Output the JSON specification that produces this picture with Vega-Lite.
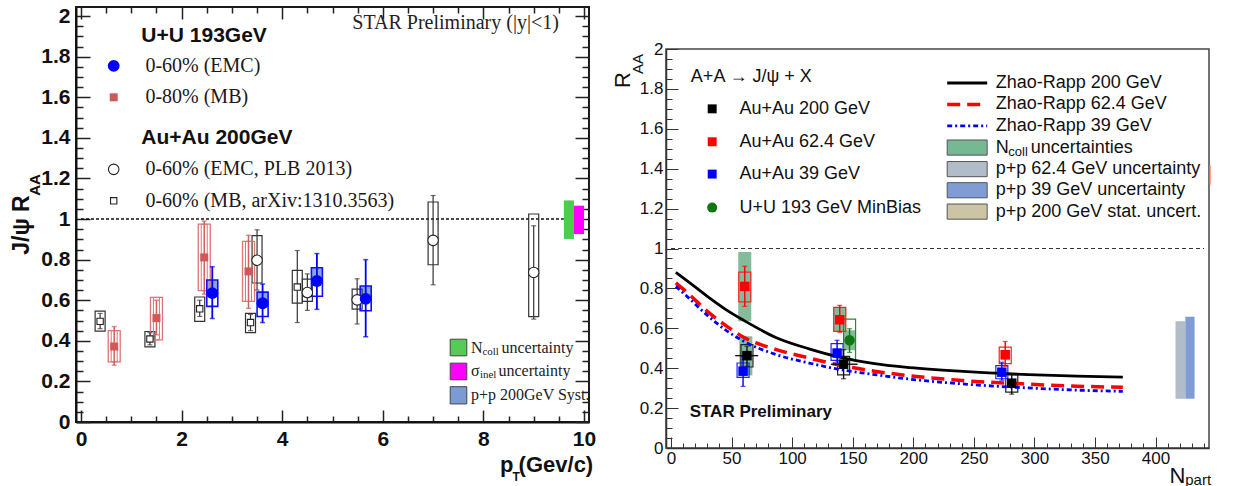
{
"$schema": "https://vega.github.io/schema/vega-lite/v6.json",
"background": "white",
"padding": {"left": 10, "top": 4, "right": 5, "bottom": 0},
"config": {"font": "Liberation Sans"},
"spacing": 77,
"bounds": "flush",
"datasets": {
"lp": [
{"s":"uuemc","pt":2.61,"r":0.635,"slo":0.51,"shi":0.765,"blo":0.57,"bhi":0.70},
{"s":"uuemc","pt":3.61,"r":0.585,"slo":0.49,"shi":0.68,"blo":0.52,"bhi":0.64},
{"s":"uuemc","pt":4.69,"r":0.695,"slo":0.555,"shi":0.83,"blo":0.62,"bhi":0.76},
{"s":"uuemc","pt":5.66,"r":0.607,"slo":0.42,"shi":0.80,"blo":0.548,"bhi":0.67},
{"s":"uumb","pt":0.66,"r":0.372,"slo":0.28,"shi":0.47,"blo":0.296,"bhi":0.45},
{"s":"uumb","pt":1.5,"r":0.512,"slo":0.43,"shi":0.60,"blo":0.405,"bhi":0.614},
{"s":"uumb","pt":2.45,"r":0.811,"slo":0.63,"shi":0.99,"blo":0.647,"bhi":0.975},
{"s":"uumb","pt":3.33,"r":0.742,"slo":0.56,"shi":0.92,"blo":0.594,"bhi":0.89},
{"s":"auemc","pt":3.5,"r":0.797,"slo":0.65,"shi":0.947,"blo":0.685,"bhi":0.918},
{"s":"auemc","pt":4.5,"r":0.638,"slo":0.55,"shi":0.73,"blo":0.594,"bhi":0.704},
{"s":"auemc","pt":5.49,"r":0.602,"slo":0.483,"shi":0.706,"blo":0.556,"bhi":0.655},
{"s":"auemc","pt":7.0,"r":0.895,"slo":0.676,"shi":1.116,"blo":0.775,"bhi":1.084},
{"s":"auemc","pt":9.0,"r":0.737,"slo":0.507,"shi":0.967,"blo":0.519,"bhi":1.025},
{"s":"aumb","pt":0.38,"r":0.496,"slo":0.46,"shi":0.535,"blo":0.448,"bhi":0.546},
{"s":"aumb","pt":1.37,"r":0.409,"slo":0.38,"shi":0.44,"blo":0.37,"bhi":0.446},
{"s":"aumb","pt":2.36,"r":0.558,"slo":0.52,"shi":0.60,"blo":0.496,"bhi":0.616},
{"s":"aumb","pt":3.37,"r":0.49,"slo":0.45,"shi":0.53,"blo":0.44,"bhi":0.535},
{"s":"aumb","pt":4.3,"r":0.665,"slo":0.49,"shi":0.845,"blo":0.586,"bhi":0.747}
],
"rp": [
{"s":"au200","n":62.7,"r":0.463,"slo":0.41,"shi":0.51,"blo":0.406,"bhi":0.518,"nlo":53,"nhi":72},
{"s":"au200","n":142.5,"r":0.42,"slo":0.347,"shi":0.493,"blo":0.367,"bhi":0.459,"nlo":132,"nhi":154},
{"s":"au200","n":281.3,"r":0.325,"slo":0.27,"shi":0.37,"blo":0.28,"bhi":0.367},
{"s":"au62","n":60.9,"r":0.81,"slo":0.71,"shi":0.911,"blo":0.732,"bhi":0.882},
{"s":"au62","n":139.3,"r":0.643,"slo":0.58,"shi":0.715,"blo":0.585,"bhi":0.705},
{"s":"au62","n":275.9,"r":0.468,"slo":0.41,"shi":0.534,"blo":0.423,"bhi":0.506},
{"s":"au39","n":59.5,"r":0.385,"slo":0.309,"shi":0.459,"blo":0.354,"bhi":0.426},
{"s":"au39","n":137.1,"r":0.476,"slo":0.43,"shi":0.54,"blo":0.439,"bhi":0.523},
{"s":"au39","n":273.1,"r":0.38,"slo":0.34,"shi":0.43,"blo":0.347,"bhi":0.413},
{"s":"uu193","n":147.4,"r":0.54,"slo":0.479,"shi":0.598,"blo":0.438,"bhi":0.646}
],
"rn": [
{"n":60.9,"lo":0.635,"hi":0.983},
{"n":61.8,"lo":0.364,"hi":0.56},
{"n":139.3,"lo":0.585,"hi":0.705},
{"n":147.4,"lo":0.49,"hi":0.59}
],
"zr": [
{"m":"200","n":4,"r":0.88},{"m":"200","n":15,"r":0.83},{"m":"200","n":30,"r":0.76},{"m":"200","n":45,"r":0.695},{"m":"200","n":60,"r":0.64},{"m":"200","n":87,"r":0.553},{"m":"200","n":114,"r":0.497},{"m":"200","n":140,"r":0.454},{"m":"200","n":168,"r":0.423},{"m":"200","n":193,"r":0.405},{"m":"200","n":241,"r":0.384},{"m":"200","n":295,"r":0.368},{"m":"200","n":335,"r":0.36},{"m":"200","n":373,"r":0.355},
{"m":"62","n":4,"r":0.828},{"m":"62","n":15,"r":0.77},{"m":"62","n":30,"r":0.685},{"m":"62","n":45,"r":0.615},{"m":"62","n":60,"r":0.555},{"m":"62","n":87,"r":0.493},{"m":"62","n":114,"r":0.451},{"m":"62","n":140,"r":0.414},{"m":"62","n":168,"r":0.385},{"m":"62","n":193,"r":0.365},{"m":"62","n":241,"r":0.338},{"m":"62","n":295,"r":0.32},{"m":"62","n":335,"r":0.31},{"m":"62","n":373,"r":0.304},
{"m":"39","n":4,"r":0.81},{"m":"39","n":15,"r":0.75},{"m":"39","n":30,"r":0.665},{"m":"39","n":45,"r":0.592},{"m":"39","n":60,"r":0.535},{"m":"39","n":87,"r":0.468},{"m":"39","n":114,"r":0.426},{"m":"39","n":140,"r":0.393},{"m":"39","n":168,"r":0.368},{"m":"39","n":193,"r":0.348},{"m":"39","n":241,"r":0.321},{"m":"39","n":295,"r":0.301},{"m":"39","n":335,"r":0.29},{"m":"39","n":373,"r":0.284}
]
},
"hconcat": [
{
"width": 513, "height": 415,
"view": {"stroke": "#1a1a1a", "strokeWidth": 2},
"resolve": {"axis": {"x": "independent", "y": "independent"}},
"layer": [
{"data": {"values": [{"a": 0, "b": 9.6, "r": 1}]},
 "mark": {"type": "rule", "strokeDash": [3, 2], "color": "#111", "strokeWidth": 1.6},
 "encoding": {
  "x": {"field": "a", "type": "quantitative", "scale": {"domain": [0, 10], "nice": false, "zero": false},
   "axis": {"orient": "bottom", "title": null, "grid": false, "values": [0,0.5,1,1.5,2,2.5,3,3.5,4,4.5,5,5.5,6,6.5,7,7.5,8,8.5,9,9.5,10],
    "labelExpr": "datum.value % 2 == 0 ? format(datum.value, 'd') : ''",
    "tickSize": {"condition": {"test": "datum.value % 2 == 0", "value": -12}, "value": -6},
    "labelPadding": 18, "labelFont": "Liberation Sans", "labelFontWeight": "bold", "labelFontSize": 21, "labelColor": "#111",
    "tickColor": "#222", "tickWidth": 1.5, "domainColor": "#111", "domainWidth": 2, "labelOverlap": false, "labelFlush": false, "labelBound": false}},
  "x2": {"field": "b"},
  "y": {"field": "r", "type": "quantitative", "scale": {"domain": [0, 2.045], "nice": false, "zero": false},
   "axis": {"orient": "left", "title": null, "grid": false, "values": [0,0.05,0.1,0.15,0.2,0.25,0.3,0.35,0.4,0.45,0.5,0.55,0.6,0.65,0.7,0.75,0.8,0.85,0.9,0.95,1,1.05,1.1,1.15,1.2,1.25,1.3,1.35,1.4,1.45,1.5,1.55,1.6,1.65,1.7,1.75,1.8,1.85,1.9,1.95,2],
    "labelExpr": "abs(datum.value*5 - round(datum.value*5)) < 0.001 ? format(datum.value, '.1~f') : ''",
    "tickSize": {"condition": {"test": "abs(datum.value*5 - round(datum.value*5)) < 0.001", "value": -14}, "value": -7},
    "labelPadding": 20, "labelFont": "Liberation Sans", "labelFontWeight": "bold", "labelFontSize": 21, "labelColor": "#111",
    "tickColor": "#222", "tickWidth": 1.5, "domainColor": "#111", "domainWidth": 2, "labelOverlap": false, "labelFlush": false, "labelBound": false}}
 }},
{"data": {"values": [{"a": 0, "b": 9.6, "r": 1}]},
 "mark": {"type": "rule", "opacity": 0},
 "encoding": {
  "x": {"field": "a", "type": "quantitative",
   "axis": {"orient": "top", "title": null, "grid": false, "labels": false, "domain": false, "values": [0,0.5,1,1.5,2,2.5,3,3.5,4,4.5,5,5.5,6,6.5,7,7.5,8,8.5,9,9.5,10],
    "tickSize": {"condition": {"test": "datum.value % 2 == 0", "value": -12}, "value": -6}, "tickColor": "#222", "tickWidth": 1.5}},
  "x2": {"field": "b"},
  "y": {"field": "r", "type": "quantitative",
   "axis": {"orient": "right", "title": null, "grid": false, "labels": false, "domain": false, "values": [0,0.05,0.1,0.15,0.2,0.25,0.3,0.35,0.4,0.45,0.5,0.55,0.6,0.65,0.7,0.75,0.8,0.85,0.9,0.95,1,1.05,1.1,1.15,1.2,1.25,1.3,1.35,1.4,1.45,1.5,1.55,1.6,1.65,1.7,1.75,1.8,1.85,1.9,1.95,2],
    "tickSize": {"condition": {"test": "abs(datum.value*5 - round(datum.value*5)) < 0.001", "value": -14}, "value": -7}, "tickColor": "#222", "tickWidth": 1.5}}
 }},
{"data": {"values": [{"a": 9.6, "b": 9.8, "lo": 0.902, "hi": 1.092}]},
 "mark": {"type": "rect", "color": "#4ccd4c"},
 "encoding": {"x": {"field": "a", "type": "quantitative", "axis": null}, "x2": {"field": "b"}, "y": {"field": "lo", "type": "quantitative", "axis": null}, "y2": {"field": "hi"}}},
{"data": {"values": [{"a": 9.8, "b": 10, "lo": 0.926, "hi": 1.066}]},
 "mark": {"type": "rect", "color": "#ff00ff"},
 "encoding": {"x": {"field": "a", "type": "quantitative", "axis": null}, "x2": {"field": "b"}, "y": {"field": "lo", "type": "quantitative", "axis": null}, "y2": {"field": "hi"}}},
{"data": {"name": "lp"}, "transform": [{"filter": "datum.s == 'uuemc'"}],
 "mark": {"type": "bar", "width": 11, "color": "#7c9bd6", "opacity": 0.9},
 "encoding": {"x": {"field": "pt", "type": "quantitative", "axis": null}, "y": {"field": "r", "type": "quantitative", "axis": null}, "y2": {"field": "bhi"}}},
{"data": {"name": "lp"}, "transform": [{"filter": "datum.s == 'aumb' || datum.s == 'auemc'"}],
 "mark": {"type": "bar", "width": 10, "filled": false, "color": "#333", "strokeWidth": 1.2},
 "encoding": {"x": {"field": "pt", "type": "quantitative", "axis": null}, "y": {"field": "blo", "type": "quantitative", "axis": null}, "y2": {"field": "bhi"}}},
{"data": {"name": "lp"}, "transform": [{"filter": "datum.s == 'uumb'"}],
 "mark": {"type": "bar", "width": 12, "filled": false, "color": "#e07575", "strokeWidth": 1.3},
 "encoding": {"x": {"field": "pt", "type": "quantitative", "axis": null}, "y": {"field": "blo", "type": "quantitative", "axis": null}, "y2": {"field": "bhi"}}},
{"data": {"name": "lp"}, "transform": [{"filter": "datum.s == 'uumb'"}],
 "mark": {"type": "bar", "width": 6, "filled": false, "color": "#e07575", "strokeWidth": 1},
 "encoding": {"x": {"field": "pt", "type": "quantitative", "axis": null}, "y": {"field": "blo", "type": "quantitative", "axis": null}, "y2": {"field": "bhi"}}},
{"data": {"name": "lp"}, "transform": [{"filter": "datum.s == 'uuemc'"}],
 "mark": {"type": "bar", "width": 11, "filled": false, "color": "#1010ff", "strokeWidth": 1.6},
 "encoding": {"x": {"field": "pt", "type": "quantitative", "axis": null}, "y": {"field": "blo", "type": "quantitative", "axis": null}, "y2": {"field": "bhi"}}},
{"data": {"name": "lp"}, "transform": [{"filter": "datum.s == 'aumb' || datum.s == 'auemc'"}],
 "mark": {"type": "rule", "color": "#333", "strokeWidth": 1.2},
 "encoding": {"x": {"field": "pt", "type": "quantitative", "axis": null}, "y": {"field": "slo", "type": "quantitative", "axis": null}, "y2": {"field": "shi"}}},
{"data": {"name": "lp"}, "transform": [{"filter": "datum.s == 'uumb'"}],
 "mark": {"type": "rule", "color": "#d35f5f", "strokeWidth": 1.5},
 "encoding": {"x": {"field": "pt", "type": "quantitative", "axis": null}, "y": {"field": "slo", "type": "quantitative", "axis": null}, "y2": {"field": "shi"}}},
{"data": {"name": "lp"}, "transform": [{"filter": "datum.s == 'uuemc'"}],
 "mark": {"type": "rule", "color": "#0000ff", "strokeWidth": 1.8},
 "encoding": {"x": {"field": "pt", "type": "quantitative", "axis": null}, "y": {"field": "slo", "type": "quantitative", "axis": null}, "y2": {"field": "shi"}}},
{"data": {"name": "lp"}, "transform": [{"filter": "datum.s == 'aumb' || datum.s == 'auemc'"}, {"fold": ["slo", "shi"], "as": ["k", "v"]}],
 "mark": {"type": "tick", "orient": "horizontal", "size": 5, "thickness": 1.2, "color": "#333"},
 "encoding": {"x": {"field": "pt", "type": "quantitative", "axis": null}, "y": {"field": "v", "type": "quantitative", "axis": null}}},
{"data": {"name": "lp"}, "transform": [{"filter": "datum.s == 'uumb'"}, {"fold": ["slo", "shi"], "as": ["k", "v"]}],
 "mark": {"type": "tick", "orient": "horizontal", "size": 5, "thickness": 1.5, "color": "#d35f5f"},
 "encoding": {"x": {"field": "pt", "type": "quantitative", "axis": null}, "y": {"field": "v", "type": "quantitative", "axis": null}}},
{"data": {"name": "lp"}, "transform": [{"filter": "datum.s == 'uuemc'"}, {"fold": ["slo", "shi"], "as": ["k", "v"]}],
 "mark": {"type": "tick", "orient": "horizontal", "size": 5, "thickness": 1.5, "color": "#0000ff"},
 "encoding": {"x": {"field": "pt", "type": "quantitative", "axis": null}, "y": {"field": "v", "type": "quantitative", "axis": null}}},
{"data": {"name": "lp"}, "transform": [{"filter": "datum.s == 'aumb'"}],
 "mark": {"type": "square", "size": 40, "filled": true, "fill": "white", "stroke": "#222", "strokeWidth": 1.1, "opacity": 1},
 "encoding": {"x": {"field": "pt", "type": "quantitative", "axis": null}, "y": {"field": "r", "type": "quantitative", "axis": null}}},
{"data": {"name": "lp"}, "transform": [{"filter": "datum.s == 'auemc'"}],
 "mark": {"type": "circle", "size": 110, "filled": true, "fill": "white", "stroke": "#222", "strokeWidth": 1.1, "opacity": 1},
 "encoding": {"x": {"field": "pt", "type": "quantitative", "axis": null}, "y": {"field": "r", "type": "quantitative", "axis": null}}},
{"data": {"name": "lp"}, "transform": [{"filter": "datum.s == 'uumb'"}],
 "mark": {"type": "square", "size": 64, "color": "#d05858", "opacity": 1},
 "encoding": {"x": {"field": "pt", "type": "quantitative", "axis": null}, "y": {"field": "r", "type": "quantitative", "axis": null}}},
{"data": {"name": "lp"}, "transform": [{"filter": "datum.s == 'uuemc'"}],
 "mark": {"type": "circle", "size": 140, "color": "#0000ff", "opacity": 1},
 "encoding": {"x": {"field": "pt", "type": "quantitative", "axis": null}, "y": {"field": "r", "type": "quantitative", "axis": null}}},
{"data": {"values": [{"x": 0.65, "y": 1.755}]},
 "mark": {"type": "circle", "size": 140, "color": "#0000ff", "opacity": 1},
 "encoding": {"x": {"field": "x", "type": "quantitative", "axis": null}, "y": {"field": "y", "type": "quantitative", "axis": null}}},
{"data": {"values": [{"x": 0.65, "y": 1.6}]},
 "mark": {"type": "square", "size": 64, "color": "#d05858", "opacity": 1},
 "encoding": {"x": {"field": "x", "type": "quantitative", "axis": null}, "y": {"field": "y", "type": "quantitative", "axis": null}}},
{"data": {"values": [{"x": 0.65, "y": 1.245}]},
 "mark": {"type": "circle", "size": 110, "filled": true, "fill": "white", "stroke": "#222", "strokeWidth": 1.1, "opacity": 1},
 "encoding": {"x": {"field": "x", "type": "quantitative", "axis": null}, "y": {"field": "y", "type": "quantitative", "axis": null}}},
{"data": {"values": [{"x": 0.65, "y": 1.09}]},
 "mark": {"type": "square", "size": 40, "filled": true, "fill": "white", "stroke": "#222", "strokeWidth": 1.1, "opacity": 1},
 "encoding": {"x": {"field": "x", "type": "quantitative", "axis": null}, "y": {"field": "y", "type": "quantitative", "axis": null}}},
{"data": {"values": [{"a": 7.34, "b": 7.67, "lo": 0.326, "hi": 0.408}]},
 "mark": {"type": "rect", "fill": "#55cc55", "stroke": "#444", "strokeWidth": 1},
 "encoding": {"x": {"field": "a", "type": "quantitative", "axis": null}, "x2": {"field": "b"}, "y": {"field": "lo", "type": "quantitative", "axis": null}, "y2": {"field": "hi"}}},
{"data": {"values": [{"a": 7.34, "b": 7.67, "lo": 0.208, "hi": 0.29}]},
 "mark": {"type": "rect", "fill": "#ff00ff", "stroke": "#444", "strokeWidth": 1},
 "encoding": {"x": {"field": "a", "type": "quantitative", "axis": null}, "x2": {"field": "b"}, "y": {"field": "lo", "type": "quantitative", "axis": null}, "y2": {"field": "hi"}}},
{"data": {"values": [{"a": 7.34, "b": 7.67, "lo": 0.089, "hi": 0.174}]},
 "mark": {"type": "rect", "fill": "#7c9bd6", "stroke": "#444", "strokeWidth": 1},
 "encoding": {"x": {"field": "a", "type": "quantitative", "axis": null}, "x2": {"field": "b"}, "y": {"field": "lo", "type": "quantitative", "axis": null}, "y2": {"field": "hi"}}},
{"data": {"values": [
  {"t": "0-60% (EMC)", "x": 1.28, "y": 1.755},
  {"t": "0-80% (MB)", "x": 1.28, "y": 1.6},
  {"t": "0-60% (EMC, PLB 2013)", "x": 1.28, "y": 1.245},
  {"t": "0-60% (MB, arXiv:1310.3563)", "x": 1.28, "y": 1.09}]},
 "mark": {"type": "text", "align": "left", "baseline": "middle", "font": "Liberation Serif", "fontSize": 20, "color": "#1a1a1a"},
 "encoding": {"x": {"field": "x", "type": "quantitative", "axis": null}, "y": {"field": "y", "type": "quantitative", "axis": null}, "text": {"field": "t"}}},
{"data": {"values": [
  {"t": "U+U 193GeV", "x": 1.2, "y": 1.9},
  {"t": "Au+Au 200GeV", "x": 1.2, "y": 1.4}]},
 "mark": {"type": "text", "align": "left", "baseline": "middle", "font": "Liberation Sans", "fontWeight": "bold", "fontSize": 21, "color": "#111"},
 "encoding": {"x": {"field": "x", "type": "quantitative", "axis": null}, "y": {"field": "y", "type": "quantitative", "axis": null}, "text": {"field": "t"}}},
{"data": {"values": [{"t": "STAR Preliminary (|y|<1)", "x": 9.5, "y": 1.967}]},
 "mark": {"type": "text", "align": "right", "baseline": "middle", "font": "Liberation Serif", "fontSize": 20, "color": "#222"},
 "encoding": {"x": {"field": "x", "type": "quantitative", "axis": null}, "y": {"field": "y", "type": "quantitative", "axis": null}, "text": {"field": "t"}}},
{"data": {"values": [
  {"t": "N", "x": 7.753, "y": 0.367},
  {"t": "σ", "x": 7.753, "y": 0.252},
  {"t": "p+p 200GeV Syst.", "x": 7.753, "y": 0.133},
  {"t": "uncertainty", "x": 8.36, "y": 0.367},
  {"t": "uncertainty", "x": 8.3, "y": 0.252}]},
 "mark": {"type": "text", "align": "left", "baseline": "middle", "font": "Liberation Serif", "fontSize": 16, "color": "#222"},
 "encoding": {"x": {"field": "x", "type": "quantitative", "axis": null}, "y": {"field": "y", "type": "quantitative", "axis": null}, "text": {"field": "t"}}},
{"data": {"values": [
  {"t": "coll", "x": 7.98, "y": 0.345},
  {"t": "inel", "x": 7.93, "y": 0.23}]},
 "mark": {"type": "text", "align": "left", "baseline": "middle", "font": "Liberation Serif", "fontSize": 11, "color": "#222"},
 "encoding": {"x": {"field": "x", "type": "quantitative", "axis": null}, "y": {"field": "y", "type": "quantitative", "axis": null}, "text": {"field": "t"}}},
{"data": {"values": [{"t": "J/ψ R", "x": -1.03, "y": 0.824}]},
 "mark": {"type": "text", "angle": 270, "align": "left", "baseline": "alphabetic", "font": "Liberation Sans", "fontWeight": "bold", "fontSize": 23, "color": "#111"},
 "encoding": {"x": {"field": "x", "type": "quantitative", "axis": null}, "y": {"field": "y", "type": "quantitative", "axis": null}, "text": {"field": "t"}}},
{"data": {"values": [{"t": "AA", "x": -0.82, "y": 1.115}]},
 "mark": {"type": "text", "angle": 270, "align": "left", "baseline": "alphabetic", "font": "Liberation Sans", "fontWeight": "bold", "fontSize": 15, "color": "#111"},
 "encoding": {"x": {"field": "x", "type": "quantitative", "axis": null}, "y": {"field": "y", "type": "quantitative", "axis": null}, "text": {"field": "t"}}},
{"data": {"values": [{"t": "p", "x": 8.33, "y": -0.245}, {"t": "(Gev/c)", "x": 8.7, "y": -0.245}]},
 "mark": {"type": "text", "align": "left", "baseline": "alphabetic", "font": "Liberation Sans", "fontWeight": "bold", "fontSize": 22, "color": "#111"},
 "encoding": {"x": {"field": "x", "type": "quantitative", "axis": null}, "y": {"field": "y", "type": "quantitative", "axis": null}, "text": {"field": "t"}}},
{"data": {"values": [{"t": "T", "x": 8.58, "y": -0.29}]},
 "mark": {"type": "text", "align": "left", "baseline": "alphabetic", "font": "Liberation Sans", "fontWeight": "bold", "fontSize": 12, "color": "#111"},
 "encoding": {"x": {"field": "x", "type": "quantitative", "axis": null}, "y": {"field": "y", "type": "quantitative", "axis": null}, "text": {"field": "t"}}}
]
},
{
"spacing": 41,
"bounds": "flush",
"vconcat": [
{"width": 543, "height": 1, "data": {"values": [{"a": 0}]}, "mark": {"type": "point", "opacity": 0}, "encoding": {}, "view": {"stroke": null}},
{
"width": 543, "height": 399,
"view": {"stroke": "#444", "strokeWidth": 1.5},
"resolve": {"axis": {"x": "independent", "y": "independent"}},
"layer": [
{"data": {"values": [{"a": 0, "b": 440, "r": 1}]},
 "mark": {"type": "rule", "strokeDash": [4, 3], "color": "#333", "strokeWidth": 1},
 "encoding": {
  "x": {"field": "a", "type": "quantitative", "scale": {"domain": [0, 440], "nice": false, "zero": false},
   "axis": {"orient": "bottom", "title": null, "grid": false, "values": [0,10,20,30,40,50,60,70,80,90,100,110,120,130,140,150,160,170,180,190,200,210,220,230,240,250,260,270,280,290,300,310,320,330,340,350,360,370,380,390,400,410,420,430,440],
    "labelExpr": "datum.value % 50 == 0 ? format(datum.value, 'd') : ''",
    "tickSize": {"condition": {"test": "datum.value % 50 == 0", "value": -11}, "value": -5},
    "labelPadding": 13, "labelFont": "Liberation Sans", "labelFontSize": 17, "labelColor": "#111",
    "tickColor": "#333", "tickWidth": 1, "domainColor": "#333", "domainWidth": 1.5, "labelOverlap": false, "labelFlush": false, "labelBound": false}},
  "x2": {"field": "b"},
  "y": {"field": "r", "type": "quantitative", "scale": {"domain": [0, 2], "nice": false, "zero": false},
   "axis": {"orient": "left", "title": null, "grid": false, "values": [0,0.05,0.1,0.15,0.2,0.25,0.3,0.35,0.4,0.45,0.5,0.55,0.6,0.65,0.7,0.75,0.8,0.85,0.9,0.95,1,1.05,1.1,1.15,1.2,1.25,1.3,1.35,1.4,1.45,1.5,1.55,1.6,1.65,1.7,1.75,1.8,1.85,1.9,1.95,2],
    "labelExpr": "abs(datum.value*5 - round(datum.value*5)) < 0.001 ? format(datum.value, '.1~f') : ''",
    "tickSize": {"condition": {"test": "abs(datum.value*5 - round(datum.value*5)) < 0.001", "value": -12}, "value": -6},
    "labelPadding": 15, "labelFont": "Liberation Sans", "labelFontSize": 17, "labelColor": "#111",
    "tickColor": "#333", "tickWidth": 1, "domainColor": "#333", "domainWidth": 1.5, "labelOverlap": false, "labelFlush": false, "labelBound": false}}
 }},
{"data": {"name": "rn"},
 "mark": {"type": "bar", "width": 13, "color": "#74b58e", "opacity": 0.9},
 "encoding": {"x": {"field": "n", "type": "quantitative", "axis": null}, "y": {"field": "lo", "type": "quantitative", "axis": null}, "y2": {"field": "hi"}}},
{"data": {"values": [{"a": 416.5, "b": 424.6, "lo": 0.247, "hi": 0.635}]},
 "mark": {"type": "rect", "color": "#b0bcc8"},
 "encoding": {"x": {"field": "a", "type": "quantitative", "axis": null}, "x2": {"field": "b"}, "y": {"field": "lo", "type": "quantitative", "axis": null}, "y2": {"field": "hi"}}},
{"data": {"values": [{"a": 424.6, "b": 432.2, "lo": 0.247, "hi": 0.658}]},
 "mark": {"type": "rect", "color": "#7f9dd4"},
 "encoding": {"x": {"field": "a", "type": "quantitative", "axis": null}, "x2": {"field": "b"}, "y": {"field": "lo", "type": "quantitative", "axis": null}, "y2": {"field": "hi"}}},
{"data": {"values": [{"a": 445, "lo": 1.32, "hi": 1.417}]},
 "mark": {"type": "rule", "color": "#ff8040", "strokeWidth": 1.2},
 "encoding": {"x": {"field": "a", "type": "quantitative", "axis": null}, "y": {"field": "lo", "type": "quantitative", "axis": null}, "y2": {"field": "hi"}}},
{"data": {"values": [{"n": 275.9, "lo": 0.44, "hi": 0.49}]},
 "mark": {"type": "bar", "width": 9, "color": "#a9a48f"},
 "encoding": {"x": {"field": "n", "type": "quantitative", "axis": null}, "y": {"field": "lo", "type": "quantitative", "axis": null}, "y2": {"field": "hi"}}},
{"data": {"name": "rp"}, "transform": [{"filter": "datum.s == 'au200'"}],
 "mark": {"type": "bar", "width": 12, "filled": false, "color": "#222", "strokeWidth": 1.2},
 "encoding": {"x": {"field": "n", "type": "quantitative", "axis": null}, "y": {"field": "blo", "type": "quantitative", "axis": null}, "y2": {"field": "bhi"}}},
{"data": {"name": "rp"}, "transform": [{"filter": "datum.s == 'au62'"}],
 "mark": {"type": "bar", "width": 12, "filled": false, "color": "#ff2020", "strokeWidth": 1.2},
 "encoding": {"x": {"field": "n", "type": "quantitative", "axis": null}, "y": {"field": "blo", "type": "quantitative", "axis": null}, "y2": {"field": "bhi"}}},
{"data": {"name": "rp"}, "transform": [{"filter": "datum.s == 'au39'"}],
 "mark": {"type": "bar", "width": 12, "filled": false, "color": "#2020ff", "strokeWidth": 1.2},
 "encoding": {"x": {"field": "n", "type": "quantitative", "axis": null}, "y": {"field": "blo", "type": "quantitative", "axis": null}, "y2": {"field": "bhi"}}},
{"data": {"name": "rp"}, "transform": [{"filter": "datum.s == 'uu193'"}],
 "mark": {"type": "bar", "width": 12, "filled": false, "color": "#2a8a2a", "strokeWidth": 1.2},
 "encoding": {"x": {"field": "n", "type": "quantitative", "axis": null}, "y": {"field": "blo", "type": "quantitative", "axis": null}, "y2": {"field": "bhi"}}},
{"data": {"name": "zr"}, "transform": [{"filter": "datum.m == '200'"}],
 "mark": {"type": "line", "color": "#000", "strokeWidth": 2.8, "interpolate": "monotone"},
 "encoding": {"x": {"field": "n", "type": "quantitative", "axis": null}, "y": {"field": "r", "type": "quantitative", "axis": null}}},
{"data": {"name": "zr"}, "transform": [{"filter": "datum.m == '62'"}],
 "mark": {"type": "line", "color": "#ff0000", "strokeWidth": 3.5, "strokeDash": [13, 7], "interpolate": "monotone"},
 "encoding": {"x": {"field": "n", "type": "quantitative", "axis": null}, "y": {"field": "r", "type": "quantitative", "axis": null}}},
{"data": {"name": "zr"}, "transform": [{"filter": "datum.m == '39'"}],
 "mark": {"type": "line", "color": "#0000ff", "strokeWidth": 2.8, "strokeDash": [5, 3, 2, 3], "interpolate": "monotone"},
 "encoding": {"x": {"field": "n", "type": "quantitative", "axis": null}, "y": {"field": "r", "type": "quantitative", "axis": null}}},
{"data": {"name": "rp"}, "transform": [{"filter": "datum.s == 'au200'"}],
 "mark": {"type": "rule", "color": "#111", "strokeWidth": 1.4},
 "encoding": {"x": {"field": "n", "type": "quantitative", "axis": null}, "y": {"field": "slo", "type": "quantitative", "axis": null}, "y2": {"field": "shi"}}},
{"data": {"name": "rp"}, "transform": [{"filter": "datum.s == 'au200' && isValid(datum.nlo)"}],
 "mark": {"type": "rule", "color": "#111", "strokeWidth": 1.4},
 "encoding": {"x": {"field": "nlo", "type": "quantitative", "axis": null}, "x2": {"field": "nhi"}, "y": {"field": "r", "type": "quantitative", "axis": null}}},
{"data": {"name": "rp"}, "transform": [{"filter": "datum.s == 'au62'"}],
 "mark": {"type": "rule", "color": "#ff0000", "strokeWidth": 1.4},
 "encoding": {"x": {"field": "n", "type": "quantitative", "axis": null}, "y": {"field": "slo", "type": "quantitative", "axis": null}, "y2": {"field": "shi"}}},
{"data": {"name": "rp"}, "transform": [{"filter": "datum.s == 'au39'"}],
 "mark": {"type": "rule", "color": "#0000ff", "strokeWidth": 1.4},
 "encoding": {"x": {"field": "n", "type": "quantitative", "axis": null}, "y": {"field": "slo", "type": "quantitative", "axis": null}, "y2": {"field": "shi"}}},
{"data": {"name": "rp"}, "transform": [{"filter": "datum.s == 'uu193'"}],
 "mark": {"type": "rule", "color": "#117711", "strokeWidth": 1.4},
 "encoding": {"x": {"field": "n", "type": "quantitative", "axis": null}, "y": {"field": "slo", "type": "quantitative", "axis": null}, "y2": {"field": "shi"}}},
{"data": {"name": "rp"}, "transform": [{"filter": "datum.s == 'au200'"}, {"fold": ["slo", "shi"], "as": ["k", "v"]}],
 "mark": {"type": "tick", "orient": "horizontal", "size": 5, "thickness": 1.2, "color": "#111"},
 "encoding": {"x": {"field": "n", "type": "quantitative", "axis": null}, "y": {"field": "v", "type": "quantitative", "axis": null}}},
{"data": {"name": "rp"}, "transform": [{"filter": "datum.s == 'au62'"}, {"fold": ["slo", "shi"], "as": ["k", "v"]}],
 "mark": {"type": "tick", "orient": "horizontal", "size": 5, "thickness": 1.2, "color": "#ff0000"},
 "encoding": {"x": {"field": "n", "type": "quantitative", "axis": null}, "y": {"field": "v", "type": "quantitative", "axis": null}}},
{"data": {"name": "rp"}, "transform": [{"filter": "datum.s == 'au39'"}, {"fold": ["slo", "shi"], "as": ["k", "v"]}],
 "mark": {"type": "tick", "orient": "horizontal", "size": 5, "thickness": 1.2, "color": "#0000ff"},
 "encoding": {"x": {"field": "n", "type": "quantitative", "axis": null}, "y": {"field": "v", "type": "quantitative", "axis": null}}},
{"data": {"name": "rp"}, "transform": [{"filter": "datum.s == 'uu193'"}, {"fold": ["slo", "shi"], "as": ["k", "v"]}],
 "mark": {"type": "tick", "orient": "horizontal", "size": 5, "thickness": 1.2, "color": "#117711"},
 "encoding": {"x": {"field": "n", "type": "quantitative", "axis": null}, "y": {"field": "v", "type": "quantitative", "axis": null}}},
{"data": {"name": "rp"}, "transform": [{"filter": "datum.s == 'au62'"}],
 "mark": {"type": "square", "size": 90, "color": "#ff0000", "opacity": 1},
 "encoding": {"x": {"field": "n", "type": "quantitative", "axis": null}, "y": {"field": "r", "type": "quantitative", "axis": null}}},
{"data": {"name": "rp"}, "transform": [{"filter": "datum.s == 'au39'"}],
 "mark": {"type": "square", "size": 90, "color": "#0000ff", "opacity": 1},
 "encoding": {"x": {"field": "n", "type": "quantitative", "axis": null}, "y": {"field": "r", "type": "quantitative", "axis": null}}},
{"data": {"name": "rp"}, "transform": [{"filter": "datum.s == 'au200'"}],
 "mark": {"type": "square", "size": 90, "color": "#000000", "opacity": 1},
 "encoding": {"x": {"field": "n", "type": "quantitative", "axis": null}, "y": {"field": "r", "type": "quantitative", "axis": null}}},
{"data": {"name": "rp"}, "transform": [{"filter": "datum.s == 'uu193'"}],
 "mark": {"type": "circle", "size": 110, "color": "#117711", "opacity": 1},
 "encoding": {"x": {"field": "n", "type": "quantitative", "axis": null}, "y": {"field": "r", "type": "quantitative", "axis": null}}},
{"data": {"values": [{"x": 34, "y": 1.70}]},
 "mark": {"type": "square", "size": 80, "color": "#000000", "opacity": 1},
 "encoding": {"x": {"field": "x", "type": "quantitative", "axis": null}, "y": {"field": "y", "type": "quantitative", "axis": null}}},
{"data": {"values": [{"x": 34, "y": 1.535}]},
 "mark": {"type": "square", "size": 80, "color": "#ff0000", "opacity": 1},
 "encoding": {"x": {"field": "x", "type": "quantitative", "axis": null}, "y": {"field": "y", "type": "quantitative", "axis": null}}},
{"data": {"values": [{"x": 34, "y": 1.373}]},
 "mark": {"type": "square", "size": 80, "color": "#0000ff", "opacity": 1},
 "encoding": {"x": {"field": "x", "type": "quantitative", "axis": null}, "y": {"field": "y", "type": "quantitative", "axis": null}}},
{"data": {"values": [{"x": 34, "y": 1.205}]},
 "mark": {"type": "circle", "size": 100, "color": "#117711", "opacity": 1},
 "encoding": {"x": {"field": "x", "type": "quantitative", "axis": null}, "y": {"field": "y", "type": "quantitative", "axis": null}}},
{"data": {"values": [{"a": 228, "b": 261, "y": 1.83}]},
 "mark": {"type": "rule", "color": "#000", "strokeWidth": 3},
 "encoding": {"x": {"field": "a", "type": "quantitative", "axis": null}, "x2": {"field": "b"}, "y": {"field": "y", "type": "quantitative", "axis": null}}},
{"data": {"values": [{"a": 228, "b": 261, "y": 1.722}]},
 "mark": {"type": "rule", "color": "#ff0000", "strokeWidth": 3.5, "strokeDash": [13, 7]},
 "encoding": {"x": {"field": "a", "type": "quantitative", "axis": null}, "x2": {"field": "b"}, "y": {"field": "y", "type": "quantitative", "axis": null}}},
{"data": {"values": [{"a": 228, "b": 261, "y": 1.615}]},
 "mark": {"type": "rule", "color": "#0000ff", "strokeWidth": 2.8, "strokeDash": [5, 3, 2, 3]},
 "encoding": {"x": {"field": "a", "type": "quantitative", "axis": null}, "x2": {"field": "b"}, "y": {"field": "y", "type": "quantitative", "axis": null}}},
{"data": {"values": [{"a": 228, "b": 261, "lo": 1.468, "hi": 1.544}]},
 "mark": {"type": "rect", "fill": "#76b893", "stroke": "#555", "strokeWidth": 1},
 "encoding": {"x": {"field": "a", "type": "quantitative", "axis": null}, "x2": {"field": "b"}, "y": {"field": "lo", "type": "quantitative", "axis": null}, "y2": {"field": "hi"}}},
{"data": {"values": [{"a": 228, "b": 261, "lo": 1.36, "hi": 1.436}]},
 "mark": {"type": "rect", "fill": "#b0bcc8", "stroke": "#555", "strokeWidth": 1},
 "encoding": {"x": {"field": "a", "type": "quantitative", "axis": null}, "x2": {"field": "b"}, "y": {"field": "lo", "type": "quantitative", "axis": null}, "y2": {"field": "hi"}}},
{"data": {"values": [{"a": 228, "b": 261, "lo": 1.254, "hi": 1.33}]},
 "mark": {"type": "rect", "fill": "#7f9dd4", "stroke": "#555", "strokeWidth": 1},
 "encoding": {"x": {"field": "a", "type": "quantitative", "axis": null}, "x2": {"field": "b"}, "y": {"field": "lo", "type": "quantitative", "axis": null}, "y2": {"field": "hi"}}},
{"data": {"values": [{"a": 228, "b": 261, "lo": 1.147, "hi": 1.223}]},
 "mark": {"type": "rect", "fill": "#cbc5a5", "stroke": "#555", "strokeWidth": 1},
 "encoding": {"x": {"field": "a", "type": "quantitative", "axis": null}, "x2": {"field": "b"}, "y": {"field": "lo", "type": "quantitative", "axis": null}, "y2": {"field": "hi"}}},
{"data": {"values": [
  {"t": "A+A → J/ψ + X", "x": 16.4, "y": 1.858},
  {"t": "Au+Au 200 GeV", "x": 56.5, "y": 1.70},
  {"t": "Au+Au 62.4 GeV", "x": 56.5, "y": 1.535},
  {"t": "Au+Au 39 GeV", "x": 56.5, "y": 1.373},
  {"t": "U+U 193 GeV MinBias", "x": 56.5, "y": 1.205},
  {"t": "Zhao-Rapp 200 GeV", "x": 268, "y": 1.83},
  {"t": "Zhao-Rapp 62.4 GeV", "x": 268, "y": 1.722},
  {"t": "Zhao-Rapp 39 GeV", "x": 268, "y": 1.615},
  {"t": "N", "x": 268, "y": 1.506},
  {"t": "uncertainties", "x": 297, "y": 1.506},
  {"t": "p+p 62.4 GeV uncertainty", "x": 268, "y": 1.398},
  {"t": "p+p 39 GeV uncertainty", "x": 268, "y": 1.292},
  {"t": "p+p 200 GeV stat. uncert.", "x": 268, "y": 1.185}]},
 "mark": {"type": "text", "align": "left", "baseline": "middle", "font": "Liberation Sans", "fontSize": 18, "color": "#111"},
 "encoding": {"x": {"field": "x", "type": "quantitative", "axis": null}, "y": {"field": "y", "type": "quantitative", "axis": null}, "text": {"field": "t"}}},
{"data": {"values": [{"t": "coll", "x": 278.5, "y": 1.483}]},
 "mark": {"type": "text", "align": "left", "baseline": "middle", "font": "Liberation Sans", "fontSize": 13, "color": "#111"},
 "encoding": {"x": {"field": "x", "type": "quantitative", "axis": null}, "y": {"field": "y", "type": "quantitative", "axis": null}, "text": {"field": "t"}}},
{"data": {"values": [{"t": "STAR Preliminary", "x": 15.4, "y": 0.179}]},
 "mark": {"type": "text", "align": "left", "baseline": "middle", "font": "Liberation Sans", "fontWeight": "bold", "fontSize": 17, "color": "#111"},
 "encoding": {"x": {"field": "x", "type": "quantitative", "axis": null}, "y": {"field": "y", "type": "quantitative", "axis": null}, "text": {"field": "t"}}},
{"data": {"values": [{"t": "R", "x": -34, "y": 1.804}]},
 "mark": {"type": "text", "angle": 270, "align": "left", "baseline": "alphabetic", "font": "Liberation Sans", "fontSize": 22, "color": "#111"},
 "encoding": {"x": {"field": "x", "type": "quantitative", "axis": null}, "y": {"field": "y", "type": "quantitative", "axis": null}, "text": {"field": "t"}}},
{"data": {"values": [{"t": "AA", "x": -23.5, "y": 1.875}]},
 "mark": {"type": "text", "angle": 270, "align": "left", "baseline": "alphabetic", "font": "Liberation Sans", "fontSize": 15, "color": "#111"},
 "encoding": {"x": {"field": "x", "type": "quantitative", "axis": null}, "y": {"field": "y", "type": "quantitative", "axis": null}, "text": {"field": "t"}}},
{"data": {"values": [{"t": "N", "x": 411.5, "y": -0.173}]},
 "mark": {"type": "text", "align": "left", "baseline": "alphabetic", "font": "Liberation Sans", "fontSize": 22, "color": "#111"},
 "encoding": {"x": {"field": "x", "type": "quantitative", "axis": null}, "y": {"field": "y", "type": "quantitative", "axis": null}, "text": {"field": "t"}}},
{"data": {"values": [{"t": "part", "x": 424.5, "y": -0.186}]},
 "mark": {"type": "text", "align": "left", "baseline": "alphabetic", "font": "Liberation Sans", "fontSize": 15, "color": "#111"},
 "encoding": {"x": {"field": "x", "type": "quantitative", "axis": null}, "y": {"field": "y", "type": "quantitative", "axis": null}, "text": {"field": "t"}}}
]
}
]
}
]
}
